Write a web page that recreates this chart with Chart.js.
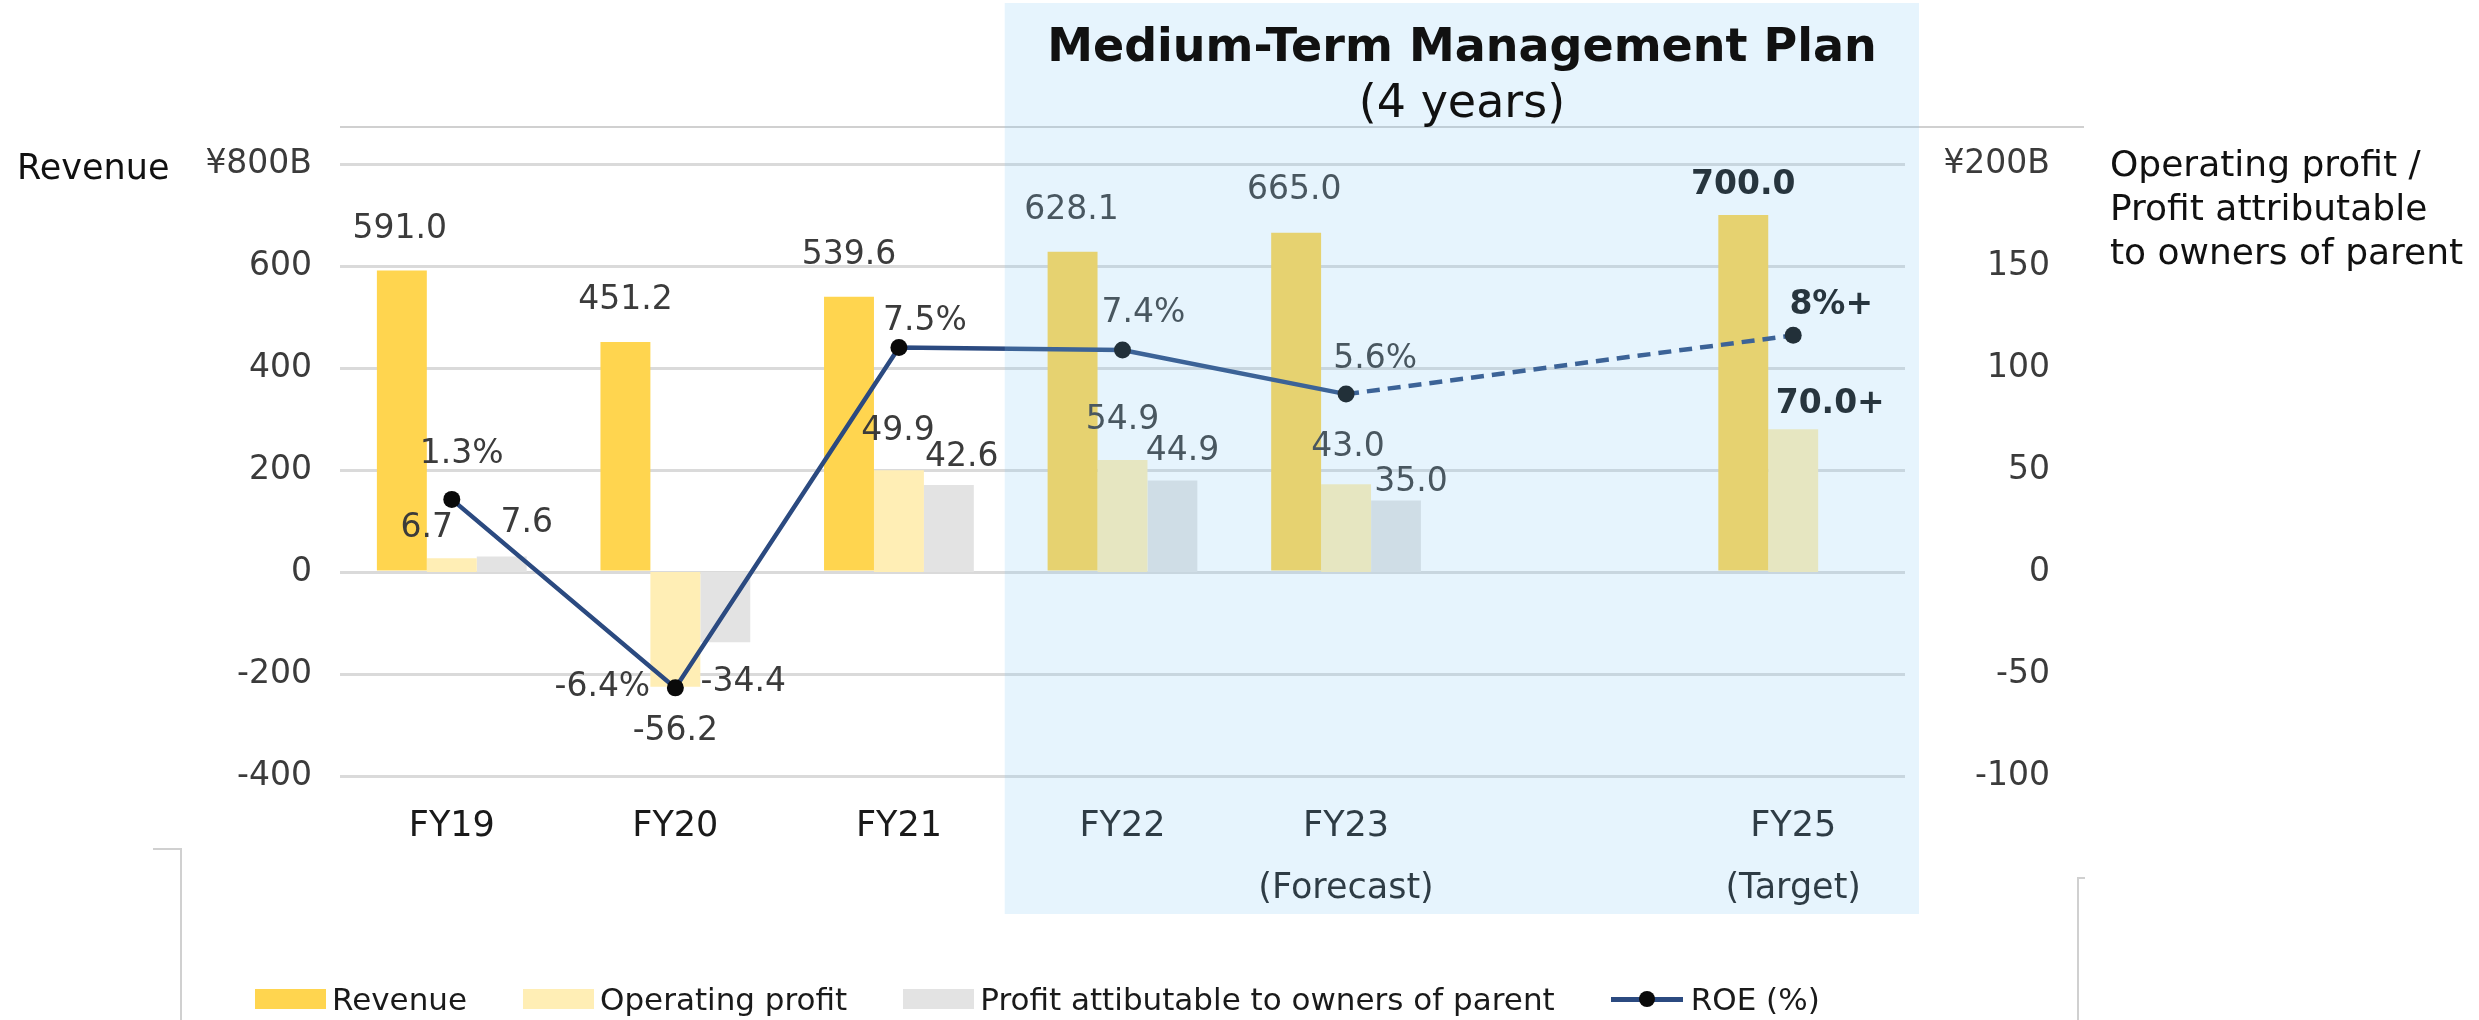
<!DOCTYPE html>
<html>
<head>
<meta charset="utf-8">
<script src="https://cdn.jsdelivr.net/npm/chart.js@4.4.1/dist/chart.umd.min.js"></script>
<style>
  html, body { margin: 0; padding: 0; background: #fff; }
  #wrap { position: relative; width: 2479px; height: 1020px; overflow: hidden; font-family: "DejaVu Sans", Verdana, sans-serif; }
  #chart { position: absolute; left: 0; top: 0; }
  .txt { position: absolute; color: #111; white-space: nowrap; }
  .frame { position: absolute; background: #d0d0d0; }
  #legend { position: absolute; left: 255px; top: 979px; height: 40px; display: flex; align-items: center; font-size: 31px; color: #1a1a1a; }
  .item { display: flex; align-items: center; margin-right: 56px; }
  .swatch { width: 71px; height: 20px; margin-right: 6px; }
  .roe-icon { position: relative; width: 72px; height: 20px; margin-right: 8px; }
  .roe-icon .ln { position: absolute; left: 0; right: 0; top: 8px; height: 5px; }
  .roe-icon .dot { position: absolute; left: 28px; top: 2px; width: 16px; height: 16px; border-radius: 50%; background: #0a0a0a; }
</style>
</head>
<body>
<div id="wrap">
  <canvas id="chart" width="2479" height="1020"></canvas>
  <div class="txt" style="left:1005px;width:914px;top:22px;text-align:center;font-weight:bold;font-size:46px;line-height:46px;">Medium-Term Management Plan</div>
  <div class="txt" style="left:1005px;width:914px;top:78px;text-align:center;font-size:46px;line-height:46px;">(4 years)</div>
  <div class="txt" style="left:17px;top:150px;font-size:35px;line-height:35px;">Revenue</div>
  <div class="txt" style="left:2110px;top:142px;font-size:36px;line-height:44px;">Operating profit /<br>Profit attributable<br>to owners of parent</div>
  <div class="frame" style="left:153px;top:848px;width:29px;height:2px;"></div>
  <div class="frame" style="left:180px;top:848px;width:2px;height:172px;"></div>
  <div class="frame" style="left:2077px;top:877px;width:2px;height:143px;"></div>
  <div class="frame" style="left:2077px;top:877px;width:8px;height:2px;"></div>
  <div id="legend"></div>
</div>
<script>
const categories = ['FY19', 'FY20', 'FY21', 'FY22', 'FY23', '', 'FY25'];
const notes = ['', '', '', '', '(Forecast)', '', '(Target)'];
const revenue = [591.0, 451.2, 539.6, 628.1, 665.0, null, 700.0];
const operatingProfit = [6.7, -56.2, 49.9, 54.9, 43.0, null, 70.0];
const netProfit = [7.6, -34.4, 42.6, 44.9, 35.0, null, null];
const roe = [1.3, -6.4, 7.5, 7.4, 5.6, null, 8];
const leftTicks = [-400, -200, 0, 200, 400, 600, 800];
const rightTicks = [-100, -50, 0, 50, 100, 150, 200];
const planStart = 3;   // FY22, first year of the plan
const targetIndex = 6; // FY25 target values ("+")

// where each value label sits, relative to the bar end / point
const labelShift = {
  revenue: [[-2, -41], [0, -41], [0, -41], [-1, -41], [-2, -42], null, [0, -30]],
  op: [[-25, -30], [0, 45], [-1, -39], [0, -40], [2, -37], null, [37, -25]],
  net: [[25, -33], [18, 40], [13, -28], [10, -29], [15, -18], null, null],
  roe: [[10, -45], [-73, 0], [26, -26], [21, -37], [29, -35], null, [38, -30]],
};

const fmtAmount = (v, i) => v.toFixed(1) + (i === targetIndex ? '+' : '');
const fmtRoe = (v, i) => (i === targetIndex ? v + '%+' : v.toFixed(1) + '%');

const FONT = '"DejaVu Sans", Verdana, sans-serif';
Chart.defaults.font.family = FONT;

const valueLabels = {
  id: 'valueLabels',
  afterDatasetsDraw(chart) {
    const ctx = chart.ctx;
    ctx.save();
    ctx.textAlign = 'center';
    ctx.textBaseline = 'middle';
    chart.data.datasets.forEach((ds, di) => {
      const meta = chart.getDatasetMeta(di);
      meta.data.forEach((el, i) => {
        const v = ds.data[i];
        const shift = labelShift[ds.key][i];
        if (v === null || !shift) return;
        const bold = i === targetIndex;
        ctx.font = (bold ? 'bold ' : '') + '33px ' + FONT;
        ctx.fillStyle = bold ? '#111111' : '#3b3b3b';
        ctx.fillText(ds.fmt(v, i), el.x + shift[0], el.y + shift[1]);
      });
    });
    ctx.restore();
  },
  afterDraw(chart) {
    const ctx = chart.ctx;
    const area = chart.chartArea;
    const x = chart.scales.x;
    ctx.save();
    // thin frame line above the plot
    ctx.strokeStyle = '#d0d0d0';
    ctx.lineWidth = 2;
    ctx.beginPath();
    ctx.moveTo(area.left, 127);
    ctx.lineTo(2084, 127);
    ctx.stroke();
    // plan period shading, laid over everything
    const half = (x.getPixelForValue(1) - x.getPixelForValue(0)) / 2;
    const left = x.getPixelForValue(planStart) - half - 6;
    const right = area.right + 14;
    ctx.fillStyle = 'rgba(130, 200, 245, 0.2)';
    ctx.fillRect(left, 3, right - left, 911);
    ctx.restore();
  }
};

const chart = new Chart(document.getElementById('chart'), {
  data: {
    labels: categories.map((c, i) => (notes[i] ? [c, notes[i]] : c)),
    datasets: [
      {
        type: 'line', key: 'roe', fmt: fmtRoe, label: 'ROE (%)',
        data: roe, yAxisID: 'y3', order: 0,
        borderColor: '#2b4a80', borderWidth: 4.5, spanGaps: true, tension: 0,
        pointRadius: 8.5, pointBackgroundColor: '#0a0a0a', pointBorderWidth: 0,
        segment: {
          borderDash: (c) => (c.p1DataIndex === targetIndex ? [13, 8] : undefined),
        },
      },
      {
        type: 'bar', key: 'revenue', fmt: (v) => v.toFixed(1), label: 'Revenue',
        data: revenue, yAxisID: 'y', order: 1, backgroundColor: '#ffd54f',
      },
      {
        type: 'bar', key: 'op', fmt: fmtAmount, label: 'Operating profit',
        data: operatingProfit, yAxisID: 'y2', order: 1, backgroundColor: '#ffeeb5',
      },
      {
        type: 'bar', key: 'net', fmt: fmtAmount, label: 'Profit attibutable to owners of parent',
        data: netProfit, yAxisID: 'y2', order: 1, backgroundColor: '#e3e3e3',
      },
    ],
  },
  options: {
    responsive: false,
    devicePixelRatio: 1,
    animation: false,
    layout: { padding: { top: 164, left: 0, right: 429, bottom: 0 } },
    datasets: { bar: { categoryPercentage: 0.67, barPercentage: 1.0 } },
    plugins: { legend: { display: false }, tooltip: { enabled: false } },
    scales: {
      x: {
        grid: { display: false, drawTicks: false },
        border: { display: false },
        ticks: {
          autoSkip: false, maxRotation: 0, padding: 20, color: '#1a1a1a',
          font: { size: 35, lineHeight: 1.77 },
        },
        afterFit: (s) => { s.height = 244; },
      },
      y: {
        position: 'left',
        min: leftTicks[0], max: leftTicks[leftTicks.length - 1],
        afterBuildTicks: (s) => { s.ticks = leftTicks.map((v) => ({ value: v })); },
        grid: { color: '#dadada', lineWidth: 3, drawTicks: false },
        border: { display: false },
        ticks: {
          padding: 28, color: '#3b3b3b', font: { size: 33 },
          callback: (v) => (v === leftTicks[leftTicks.length - 1] ? '¥' + v + 'B' : v),
        },
        afterFit: (s) => { s.width = 340; },
      },
      y2: {
        position: 'right',
        min: rightTicks[0], max: rightTicks[rightTicks.length - 1],
        afterBuildTicks: (s) => { s.ticks = rightTicks.map((v) => ({ value: v })); },
        grid: { display: false, drawTicks: false },
        border: { display: false },
        ticks: {
          padding: 37, crossAlign: 'far', color: '#3b3b3b', font: { size: 33 },
          callback: (v) => (v === rightTicks[rightTicks.length - 1] ? '¥' + v + 'B' : v),
        },
        afterFit: (s) => { s.width = 145; },
      },
      y3: { display: false, min: -10, max: 15 },
    },
  },
  plugins: [valueLabels],
});

// legend, bars first then the ROE line
const legend = document.getElementById('legend');
const ordered = chart.data.datasets.filter((d) => d.type === 'bar').concat(chart.data.datasets.filter((d) => d.type === 'line'));
ordered.forEach((ds) => {
  const item = document.createElement('div');
  item.className = 'item';
  if (ds.type === 'bar') {
    item.innerHTML = '<div class="swatch" style="background:' + ds.backgroundColor + '"></div>';
  } else {
    item.innerHTML = '<div class="roe-icon"><div class="ln" style="background:' + ds.borderColor + '"></div><div class="dot"></div></div>';
  }
  const span = document.createElement('span');
  span.textContent = ds.label;
  item.appendChild(span);
  legend.appendChild(item);
});
</script>
</body>
</html>
